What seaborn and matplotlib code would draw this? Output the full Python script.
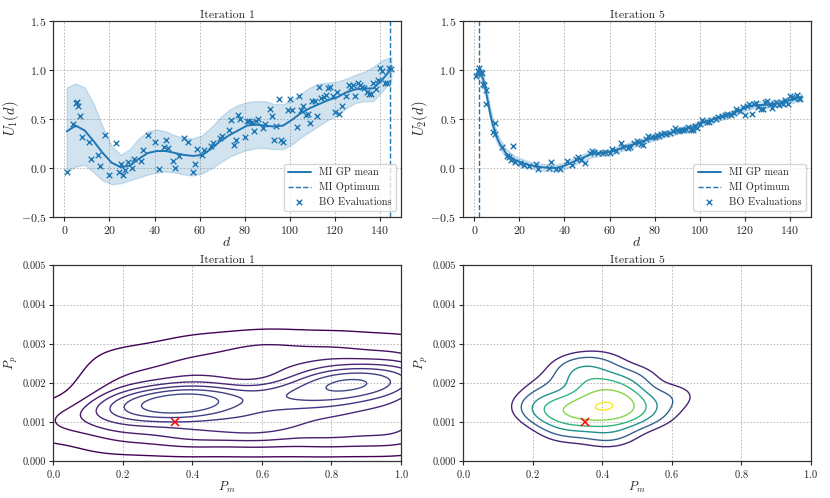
import numpy as np
import seaborn as sns
import matplotlib.pyplot as plt

# ---- iteration 1: GP over d ----
d_grid1 = [1, 5, 9, 13, 17, 21, 25, 29, 33, 37, 41, 45, 49, 53, 57, 61, 65, 69, 73,
           77, 81, 85, 89, 93, 97, 101, 105, 109, 113, 117, 121, 125, 129, 133, 137, 141, 145]
mean1 = [0.37, 0.43, 0.38, 0.27, 0.15, 0.05, 0.005, 0.02, 0.09, 0.15, 0.17, 0.17, 0.15,
         0.13, 0.12, 0.13, 0.19, 0.27, 0.33, 0.38, 0.43, 0.44, 0.43, 0.42, 0.43, 0.49,
         0.56, 0.61, 0.65, 0.69, 0.72, 0.77, 0.80, 0.81, 0.81, 0.90, 1.01]
upper1 = [0.82, 0.86, 0.82, 0.65, 0.42, 0.22, 0.13, 0.19, 0.30, 0.37, 0.39, 0.37, 0.33,
          0.30, 0.30, 0.33, 0.41, 0.51, 0.59, 0.64, 0.67, 0.68, 0.68, 0.65, 0.65, 0.69,
          0.76, 0.82, 0.86, 0.87, 0.88, 0.91, 0.95, 0.98, 1.03, 1.10, 1.13]
lower1 = [-0.04, 0.01, 0.03, -0.05, -0.13, -0.17, -0.16, -0.13, -0.10, -0.07, -0.05, -0.04,
          -0.05, -0.07, -0.08, -0.06, -0.01, 0.05, 0.11, 0.15, 0.18, 0.20, 0.20, 0.19, 0.19,
          0.24, 0.31, 0.37, 0.43, 0.49, 0.53, 0.61, 0.66, 0.68, 0.68, 0.78, 0.89]
eval_d1 = [1, 4, 5, 5.5, 6, 7, 8, 11, 12, 15, 16, 18, 20, 23, 24, 25, 26, 27, 28, 30, 31,
           34, 35, 37, 40, 42, 44, 45, 46, 48, 49, 51, 53, 55, 57, 58, 59, 61, 62, 65, 66,
           69, 70, 73, 74, 75, 76, 77, 78, 80, 81, 82, 83, 84, 85, 86, 88, 89, 91, 92, 93,
           94, 95, 96, 97, 99, 100, 101, 103, 104, 105, 106, 107, 108, 109, 110, 111, 112,
           113, 114, 115, 116, 117, 118, 119, 120, 121, 122, 123, 125, 126, 127, 128, 129,
           130, 131, 132, 133, 134, 135, 136, 137, 138, 139, 140, 141, 142, 143, 144, 145]
eval_u1 = [-0.04, 0.45, 0.66, 0.67, 0.63, 0.53, 0.31, 0.26, 0.085, 0.13, 0.02, 0.33, -0.075,
           0.25, -0.045, 0.04, -0.08, -0.02, 0.055, 0.0, 0.09, 0.07, 0.18, 0.33, 0.26, -0.01,
           0.21, 0.28, 0.20, 0.07, 0.0, 0.12, 0.30, 0.26, -0.045, 0.035, 0.19, 0.13, 0.18,
           0.22, 0.25, 0.30, 0.32, 0.39, 0.49, 0.23, 0.28, 0.54, 0.50, 0.31, 0.48, 0.48, 0.47,
           0.37, 0.48, 0.50, 0.41, 0.45, 0.60, 0.53, 0.28, 0.43, 0.70, 0.28, 0.26, 0.59, 0.70,
           0.59, 0.42, 0.73, 0.59, 0.63, 0.54, 0.55, 0.46, 0.68, 0.68, 0.53, 0.82, 0.71, 0.72,
           0.74, 0.81, 0.82, 0.73, 0.57, 0.77, 0.55, 0.63, 0.73, 0.84, 0.82, 0.84, 0.73, 0.87,
           0.84, 0.82, 0.81, 0.77, 0.75, 0.75, 0.87, 0.80, 0.90, 1.02, 0.99, 0.87, 0.87, 1.02,
           1.01]
opt_d1 = 144.5

# ---- iteration 5: GP over d ----
d_grid5 = [1, 2, 3, 4, 5, 6, 7, 8, 9, 10, 11, 12, 14, 16, 18, 20, 24, 28, 32, 36, 40, 44,
           48, 52, 56, 60, 64, 68, 72, 76, 80, 84, 88, 92, 96, 100, 104, 108, 112, 116, 120,
           124, 128, 132, 136, 140, 144, 145]
mean5 = [0.95, 0.99, 0.96, 0.90, 0.80, 0.68, 0.56, 0.46, 0.38, 0.31, 0.26, 0.22, 0.15, 0.11,
         0.08, 0.06, 0.03, 0.01, 0.0, -0.005, 0.02, 0.06, 0.10, 0.14, 0.15, 0.16, 0.19, 0.22,
         0.25, 0.28, 0.31, 0.34, 0.36, 0.39, 0.41, 0.45, 0.48, 0.51, 0.53, 0.57, 0.61, 0.64,
         0.64, 0.65, 0.66, 0.69, 0.72, 0.72]
std5 = [0.04, 0.04, 0.04, 0.05, 0.05, 0.06, 0.06, 0.06, 0.055, 0.05, 0.05, 0.05, 0.045,
        0.045, 0.04, 0.04, 0.035, 0.035, 0.035, 0.035, 0.035, 0.035, 0.035, 0.035, 0.03,
        0.03, 0.03, 0.03, 0.03, 0.03, 0.03, 0.03, 0.03, 0.03, 0.03, 0.03, 0.03, 0.03, 0.03,
        0.03, 0.03, 0.03, 0.035, 0.035, 0.035, 0.035, 0.04, 0.04]
eval_d5 = [0.7, 1.6, 2, 2.8, 3.3, 3.7, 4.3, 5.2, 5.3, 8.1, 9.2, 9.3, 12.3, 14.3, 15.4, 16.3,
           17.3, 18.2, 20.3, 22.2, 24.2, 27.2, 28.2, 33.1, 34.1, 36.1, 38.1, 41.1, 43.2, 45.1,
           46.1, 47.2, 49.1, 51.2, 52, 53, 55, 57, 58, 60, 61, 63, 65, 66, 68, 69, 71, 72, 73,
           74, 75, 76, 77, 79, 80, 81, 82, 83, 84, 85, 87, 88, 89, 90, 91, 92, 93, 94, 95, 96,
           97, 98, 99, 100, 101, 103, 104, 105, 107, 108, 110, 111, 112, 114, 115, 116, 118,
           119, 120, 121, 122, 123, 124, 125, 126, 127, 128, 129, 130, 131, 132, 133, 134, 135,
           136, 137, 138, 139, 140, 141, 142, 143, 144, 144.5]
eval_u5 = [0.94, 0.99, 1.02, 0.98, 0.97, 0.86, 0.85, 0.79, 0.65, 0.36, 0.46, 0.34, 0.21, 0.12,
           0.11, 0.08, 0.22, 0.06, 0.05, 0.03, 0.02, 0.04, -0.01, 0.0, 0.055, -0.01, -0.01,
           0.07, 0.03, 0.09, 0.11, 0.08, 0.05, 0.15, 0.17, 0.16, 0.15, 0.15, 0.16, 0.15, 0.19,
           0.17, 0.25, 0.21, 0.20, 0.21, 0.25, 0.27, 0.26, 0.24, 0.23, 0.29, 0.32, 0.31, 0.31,
           0.33, 0.32, 0.34, 0.35, 0.34, 0.35, 0.37, 0.41, 0.39, 0.37, 0.38, 0.39, 0.40, 0.42,
           0.38, 0.39, 0.43, 0.41, 0.45, 0.49, 0.47, 0.47, 0.49, 0.50, 0.52, 0.53, 0.54, 0.55,
           0.54, 0.56, 0.60, 0.58, 0.62, 0.54, 0.63, 0.65, 0.55, 0.65, 0.66, 0.62, 0.60, 0.60,
           0.67, 0.68, 0.65, 0.61, 0.65, 0.67, 0.64, 0.67, 0.65, 0.69, 0.65, 0.73, 0.72, 0.71,
           0.74, 0.71, 0.70]
opt_d5 = 2.1

# ---- posterior samples over (P_m, P_p), weighted ----
# iteration 1: broad spread (rows of P_p) plus the main / middle / right modes
pm_1 = [0.0, 0.2, 0.4, 0.6, 0.8, 1.0,
        0.0, 0.2, 0.4, 0.6, 0.8, 1.0,
        0.0, 0.2, 0.4, 0.6, 0.8, 1.0,
        0.0, 0.2, 0.4, 0.6, 0.8, 1.0,
        0.0, 0.2, 0.4, 0.6, 0.8, 1.0,
        0.2, 0.4, 0.6, 0.8, 1.0,
        0.2, 0.4, 0.6, 0.8, 1.0,
        0.4, 0.6, 0.8, 1.0,
        0.36, 0.29, 0.44, 0.86, 0.80, 0.66, 0.58]
pp_1 = [0.0004, 0.0004, 0.0004, 0.0004, 0.0004, 0.0004,
        0.0008, 0.0008, 0.0008, 0.0008, 0.0008, 0.0008,
        0.0012, 0.0012, 0.0012, 0.0012, 0.0012, 0.0012,
        0.0016, 0.0016, 0.0016, 0.0016, 0.0016, 0.0016,
        0.0020, 0.0020, 0.0020, 0.0020, 0.0020, 0.0020,
        0.0024, 0.0024, 0.0024, 0.0024, 0.0024,
        0.0028, 0.0028, 0.0028, 0.0028, 0.0028,
        0.0032, 0.0032, 0.0032, 0.0032,
        0.00150, 0.00140, 0.00150, 0.00200, 0.00165, 0.00165, 0.00100]
w_1 = [0.05, 0.3, 0.4, 0.4, 0.4, 0.4,
       0.35, 0.5, 0.6, 0.55, 0.55, 0.55,
       0.35, 0.6, 0.65, 0.5, 0.6, 0.6,
       0.06, 0.5, 0.6, 0.25, 0.55, 0.6,
       0.02, 0.4, 0.5, 0.25, 0.55, 0.6,
       0.3, 0.4, 0.45, 0.5, 0.5,
       0.2, 0.3, 0.45, 0.4, 0.35,
       0.15, 0.25, 0.2, 0.15,
       2.2, 0.9, 0.9, 2.3, 0.5, 1.1, 0.5]
# iteration 5: concentrated posterior
pm_5 = [0.41, 0.36, 0.45, 0.31, 0.47, 0.37, 0.44, 0.26, 0.54, 0.56, 0.33, 0.22, 0.42,
        0.30, 0.50, 0.40, 0.25, 0.62]
pp_5 = [0.00142, 0.00128, 0.00148, 0.00135, 0.00122, 0.00195, 0.00190, 0.00125, 0.00120,
        0.00155, 0.00235, 0.00145, 0.00075, 0.00085, 0.00215, 0.00250, 0.00190, 0.00170]
w_5 = [5, 3, 2.5, 2, 1.5, 2, 1.5, 1.5, 0.7, 0.6, 1.3, 1.0, 1.3, 1.0, 0.5, 0.6, 0.6, 0.4]
true_pm = 0.35
true_pp = 0.001

levels_1 = [0.05, 0.18, 0.32, 0.46, 0.6, 0.75, 0.9]
levels_5 = [0.05, 0.12, 0.25, 0.42, 0.65, 0.97]

sns.set_theme(style="ticks")
plt.rcParams['font.family'] = ['serif']
plt.rcParams['font.serif'] = ['cmr10', 'DejaVu Serif']
plt.rcParams['mathtext.fontset'] = 'cm'
plt.rcParams['axes.formatter.use_mathtext'] = True
plt.rcParams['axes.edgecolor'] = '#333333'
plt.rcParams['axes.linewidth'] = 0.9

blue = '#1f77b4'
fig, axes = plt.subplots(2, 2, figsize=(8.3, 4.98), dpi=100)
plt.subplots_adjust(left=0.064, right=0.977, top=0.958, bottom=0.074, wspace=0.178, hspace=0.25)


def gp_panel(ax, dg, mean, lo, hi, ed, eu, opt, ylab, title):
    ax.fill_between(dg, lo, hi, color=blue, alpha=0.2)
    sns.lineplot(x=dg, y=mean, ax=ax, color=blue, lw=1.4, label='MI GP mean')
    ax.axvline(opt, color=blue, ls='--', lw=1.0, label='MI Optimum')
    sns.scatterplot(x=ed, y=eu, ax=ax, color=blue, marker='x', s=16, linewidth=1.0,
                    label='BO Evaluations')
    ax.set_xlim(-5, 149.3)
    ax.set_ylim(-0.5, 1.5)
    ax.set_xticks([0, 20, 40, 60, 80, 100, 120, 140])
    ax.set_yticks([-0.5, 0.0, 0.5, 1.0, 1.5])
    ax.set_xlabel('$d$', fontsize=10, labelpad=0)
    ax.set_ylabel(ylab, fontsize=10.5, labelpad=0)
    ax.set_title(title, fontsize=8.5, pad=2)
    ax.tick_params(labelsize=8.5, length=3, width=0.8, pad=2)
    ax.legend(loc='lower right', fontsize=7.5, frameon=True, framealpha=0.8,
              edgecolor='#cccccc', fancybox=True, handlelength=2.2)


def kde_panel(ax, pm, pp, w, levels, colors, bw, title):
    sns.kdeplot(x=pm, y=pp, weights=w, levels=levels, bw_method=bw, colors=colors,
                linewidths=1.0, ax=ax)
    ax.plot(true_pm, true_pp, marker='x', color='red', ms=6, mew=1.1, ls='none')
    ax.set_xlim(0, 1)
    ax.set_ylim(0, 0.005)
    ax.set_yticks([0, 0.001, 0.002, 0.003, 0.004, 0.005])
    ax.set_yticklabels(['0.000', '0.001', '0.002', '0.003', '0.004', '0.005'])
    ax.set_xlabel('$P_m$', fontsize=9, labelpad=0)
    ax.set_ylabel('$P_p$', fontsize=9, labelpad=2)
    ax.set_title(title, fontsize=8.5, pad=2)
    ax.tick_params(labelsize=7.5, length=3, width=0.8, pad=2)


gp_panel(axes[0, 0], d_grid1, mean1, lower1, upper1, eval_d1, eval_u1, opt_d1,
         '$U_1(d)$', 'Iteration 1')
lo5 = [m - s for m, s in zip(mean5, std5)]
hi5 = [m + s for m, s in zip(mean5, std5)]
gp_panel(axes[0, 1], d_grid5, mean5, lo5, hi5, eval_d5, eval_u5, opt_d5,
         '$U_2(d)$', 'Iteration 5')

vir = plt.get_cmap('viridis')
cols_1 = [vir(v) for v in np.linspace(0.0, 0.22, len(levels_1))]
cols_5 = [vir(v) for v in [0.1, 0.3, 0.5, 0.65, 0.82, 1.0]]
kde_panel(axes[1, 0], pm_1, pp_1, w_1, levels_1, cols_1, 0.36, 'Iteration 1')
kde_panel(axes[1, 1], pm_5, pp_5, w_5, levels_5, cols_5, 0.65, 'Iteration 5')

for ax in axes.flat:
    ax.grid(True, color='#b0b0b0', ls=(0, (2, 2)), lw=0.6)
    ax.set_axisbelow(True)

fig.savefig('out.png', dpi=100)
